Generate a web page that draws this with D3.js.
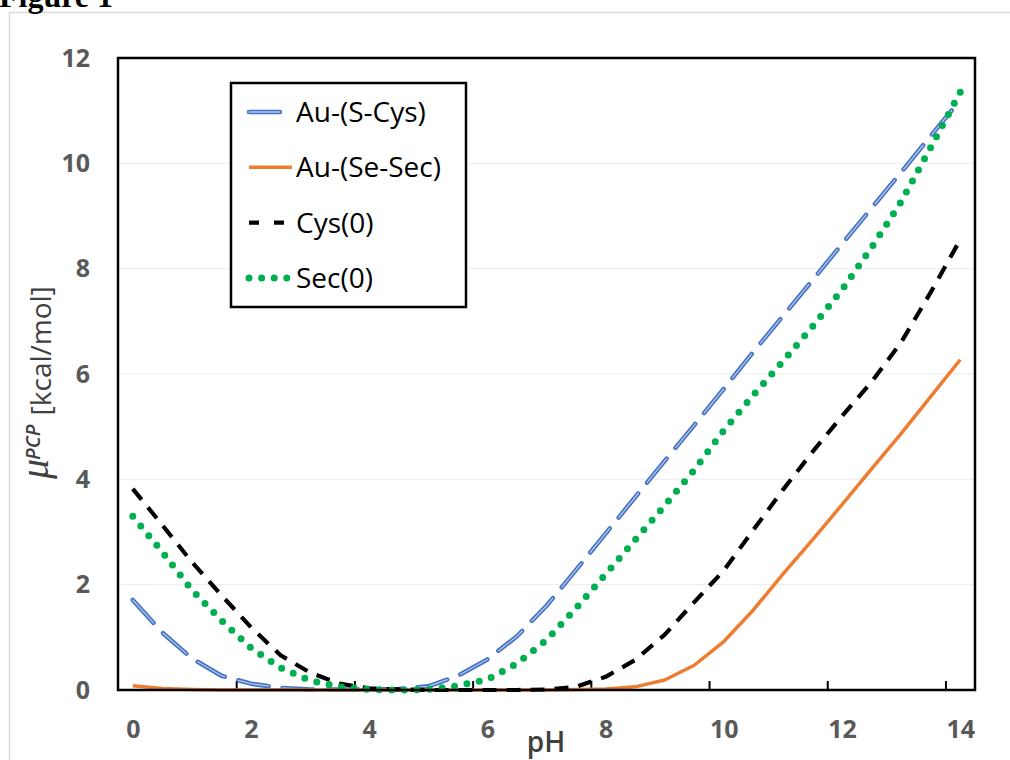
<!DOCTYPE html>
<html>
<head>
<meta charset="utf-8">
<script src="https://cdn.jsdelivr.net/npm/d3@7"></script>
<style>
  body { margin: 0; background: #fff; }
  .ticklbl text { font-family: "Open Sans", sans-serif; font-weight: 700; font-size: 25px; fill: #595959; }
  .leg text { font-family: "Open Sans", sans-serif; font-size: 28px; fill: #000; }
</style>
</head>
<body>
<div id="graf"></div>
<script>
// Datos
const ph = [0, 0.5, 1, 1.5, 2, 2.5, 3, 3.5, 4, 4.5, 5, 5.5, 6, 6.5, 7, 7.5, 8, 8.5, 9, 9.5, 10, 10.5, 11, 11.5, 12, 12.5, 13, 13.5, 14]
const auSCys = [1.71, 1.09, 0.6, 0.27, 0.12, 0.04, 0.01, 0.01, 0.01, 0.02, 0.07, 0.27, 0.58, 1.02, 1.6, 2.28, 2.97, 3.66, 4.35, 5.03, 5.72, 6.42, 7.1, 7.78, 8.47, 9.15, 9.83, 10.52, 11.2]
const auSeSec = [0.08, 0.03, 0.01, 0, 0, 0, 0, 0, 0, 0, 0, 0, 0, 0, 0, 0.01, 0.02, 0.06, 0.19, 0.47, 0.92, 1.52, 2.2, 2.85, 3.52, 4.2, 4.87, 5.57, 6.27]
const cys0 = [3.82, 3.13, 2.43, 1.8, 1.19, 0.66, 0.33, 0.12, 0.03, 0.01, 0, 0, 0, 0, 0.01, 0.06, 0.25, 0.57, 1.05, 1.67, 2.27, 3.04, 3.8, 4.52, 5.2, 5.85, 6.6, 7.55, 8.55]
const sec0 = [3.3, 2.62, 1.9, 1.32, 0.8, 0.42, 0.18, 0.06, 0.01, 0, 0.01, 0.08, 0.2, 0.5, 0.95, 1.55, 2.2, 2.85, 3.5, 4.18, 4.93, 5.6, 6.24, 6.9, 7.6, 8.4, 9.27, 10.3, 11.35]
const seriesNames = ["Au-(S-Cys)", "Au-(Se-Sec)", "Cys(0)", "Sec(0)"]
const xLabels = [0, 2, 4, 6, 8, 10, 12, 14]
const xTickMarks = [1.75, 3.75, 5.75, 7.75, 9.75, 11.75, 13.75]
const yLabels = [0, 2, 4, 6, 8, 10, 12]

// Dimensiones
const anchoTotal = 1010
const altoTotal = 760
const margins = { top: 58, right: 35, bottom: 70, left: 118 }
const ancho = anchoTotal - margins.left - margins.right
const alto = altoTotal - margins.top - margins.bottom

const svg = d3.select("#graf")
  .append("svg")
  .attr("width", anchoTotal)
  .attr("height", altoTotal)

// marco gris exterior y titulo (cortado arriba, como en la figura)
svg.append("path")
  .attr("d", "M9.5,760 V12.5 H1010")
  .attr("fill", "none")
  .attr("stroke", "#d9d9d9")
  .attr("stroke-width", 1.5)

svg.append("text")
  .attr("x", -1)
  .attr("y", 7)
  .style("font-family", "'Liberation Serif', serif")
  .style("font-weight", 700)
  .style("font-size", "32px")
  .text("Figure 1")

const g = svg.append("g")
  .attr("transform", `translate(${margins.left}, ${margins.top})`)

// Escaladores
const x = d3.scaleLinear().domain([-0.25, 14.25]).range([0, ancho])
const y = d3.scaleLinear().domain([0, 12]).range([alto, 0])

// grid
g.append("g")
  .selectAll("line")
  .data(yLabels.slice(1, -1))
  .join("line")
  .attr("x1", 0)
  .attr("x2", ancho)
  .attr("y1", (d) => y(d))
  .attr("y2", (d) => y(d))
  .attr("stroke", "#ececec")
  .attr("stroke-width", 1)

// Ejes
const yAxisGroup = g.append("g").attr("class", "ticklbl")
  .call(d3.axisLeft(y).tickValues(yLabels).tickSize(0).tickPadding(28))
yAxisGroup.select(".domain").remove()

const xLblGroup = g.append("g").attr("class", "ticklbl")
  .attr("transform", `translate(0, ${alto})`)
  .call(d3.axisBottom(x).tickValues(xLabels).tickSize(0).tickPadding(30))
xLblGroup.select(".domain").remove()

const xTickGroup = g.append("g")
  .attr("transform", `translate(0, ${alto})`)
  .call(d3.axisBottom(x).tickValues(xTickMarks).tickSize(-9).tickFormat(""))
xTickGroup.select(".domain").remove()
xTickGroup.selectAll("line").attr("stroke", "#000").attr("stroke-width", 2)

// Lineas
const datos = [auSCys, auSeSec, cys0, sec0].map((arr) => arr.map((v, i) => ({ x: ph[i], y: v })))
const linea = d3.line().x((d) => x(d.x)).y((d) => y(d.y))

const estilos = [
  [{ stroke: "#4472c4", width: 4.5, dash: "31 14", cap: "round" },
   { stroke: "#b4c7e7", width: 1.3, dash: "31 14", cap: "round" }],
  [{ stroke: "#ed7d31", width: 3.5, dash: null, cap: "butt" }],
  [{ stroke: "#000000", width: 4.2, dash: "14 10", cap: "butt" }],
  [{ stroke: "#00b050", width: 7, dash: "0 12.6", cap: "round" }],
]

datos.forEach((serie, i) => {
  estilos[i].forEach((st) => {
    g.append("path")
      .datum(serie)
      .attr("d", linea)
      .attr("fill", "none")
      .attr("stroke", st.stroke)
      .attr("stroke-width", st.width)
      .attr("stroke-dasharray", st.dash)
      .attr("stroke-linecap", st.cap)
      .attr("stroke-linejoin", "round")
  })
})

// marco del area de graficado
g.append("rect")
  .attr("width", ancho)
  .attr("height", alto)
  .attr("fill", "none")
  .attr("stroke", "#000")
  .attr("stroke-width", 2.5)

// titulos de ejes
svg.append("text")
  .attr("x", 546)
  .attr("y", 752)
  .attr("text-anchor", "middle")
  .style("font-family", "'Open Sans', sans-serif")
  .style("font-weight", 600)
  .style("font-size", "28px")
  .style("fill", "#404040")
  .text("pH")

const yTitulo = svg.append("text")
  .attr("transform", "translate(48, 479) rotate(-90)")
  .style("fill", "#404040")
yTitulo.append("tspan")
  .style("font-family", "'Liberation Serif', serif")
  .style("font-style", "italic")
  .style("font-size", "40px")
  .text("\u03bc")
yTitulo.append("tspan")
  .attr("dy", -8)
  .attr("dx", -1)
  .style("font-family", "'Open Sans', sans-serif")
  .style("font-style", "italic")
  .style("font-weight", 600)
  .style("font-size", "20px")
  .text("PCP")
yTitulo.append("tspan")
  .attr("dy", 11)
  .attr("dx", 9)
  .style("font-family", "'Open Sans', sans-serif")
  .style("font-weight", 500)
  .style("font-size", "28px")
  .text("[kcal/mol]")

// Leyenda
const leg = svg.append("g").attr("class", "leg")
leg.append("rect")
  .attr("x", 231)
  .attr("y", 83)
  .attr("width", 235)
  .attr("height", 224)
  .attr("fill", "#fff")
  .attr("stroke", "#000")
  .attr("stroke-width", 2.5)

const legY = d3.scalePoint().domain(seriesNames).range([112, 278])

seriesNames.forEach((name, i) => {
  estilos[i].forEach((st) => {
    leg.append("line")
      .attr("x1", 249)
      .attr("x2", i === 0 ? 282 : 292)
      .attr("y1", legY(name))
      .attr("y2", legY(name))
      .attr("stroke", st.stroke)
      .attr("stroke-width", st.width)
      .attr("stroke-dasharray", i === 2 ? "10 15" : st.dash)
      .attr("stroke-linecap", st.cap)
  })
  leg.append("text")
    .attr("x", 296)
    .attr("y", legY(name))
    .attr("dy", "0.36em")
    .text(name)
})
</script>
</body>
</html>
